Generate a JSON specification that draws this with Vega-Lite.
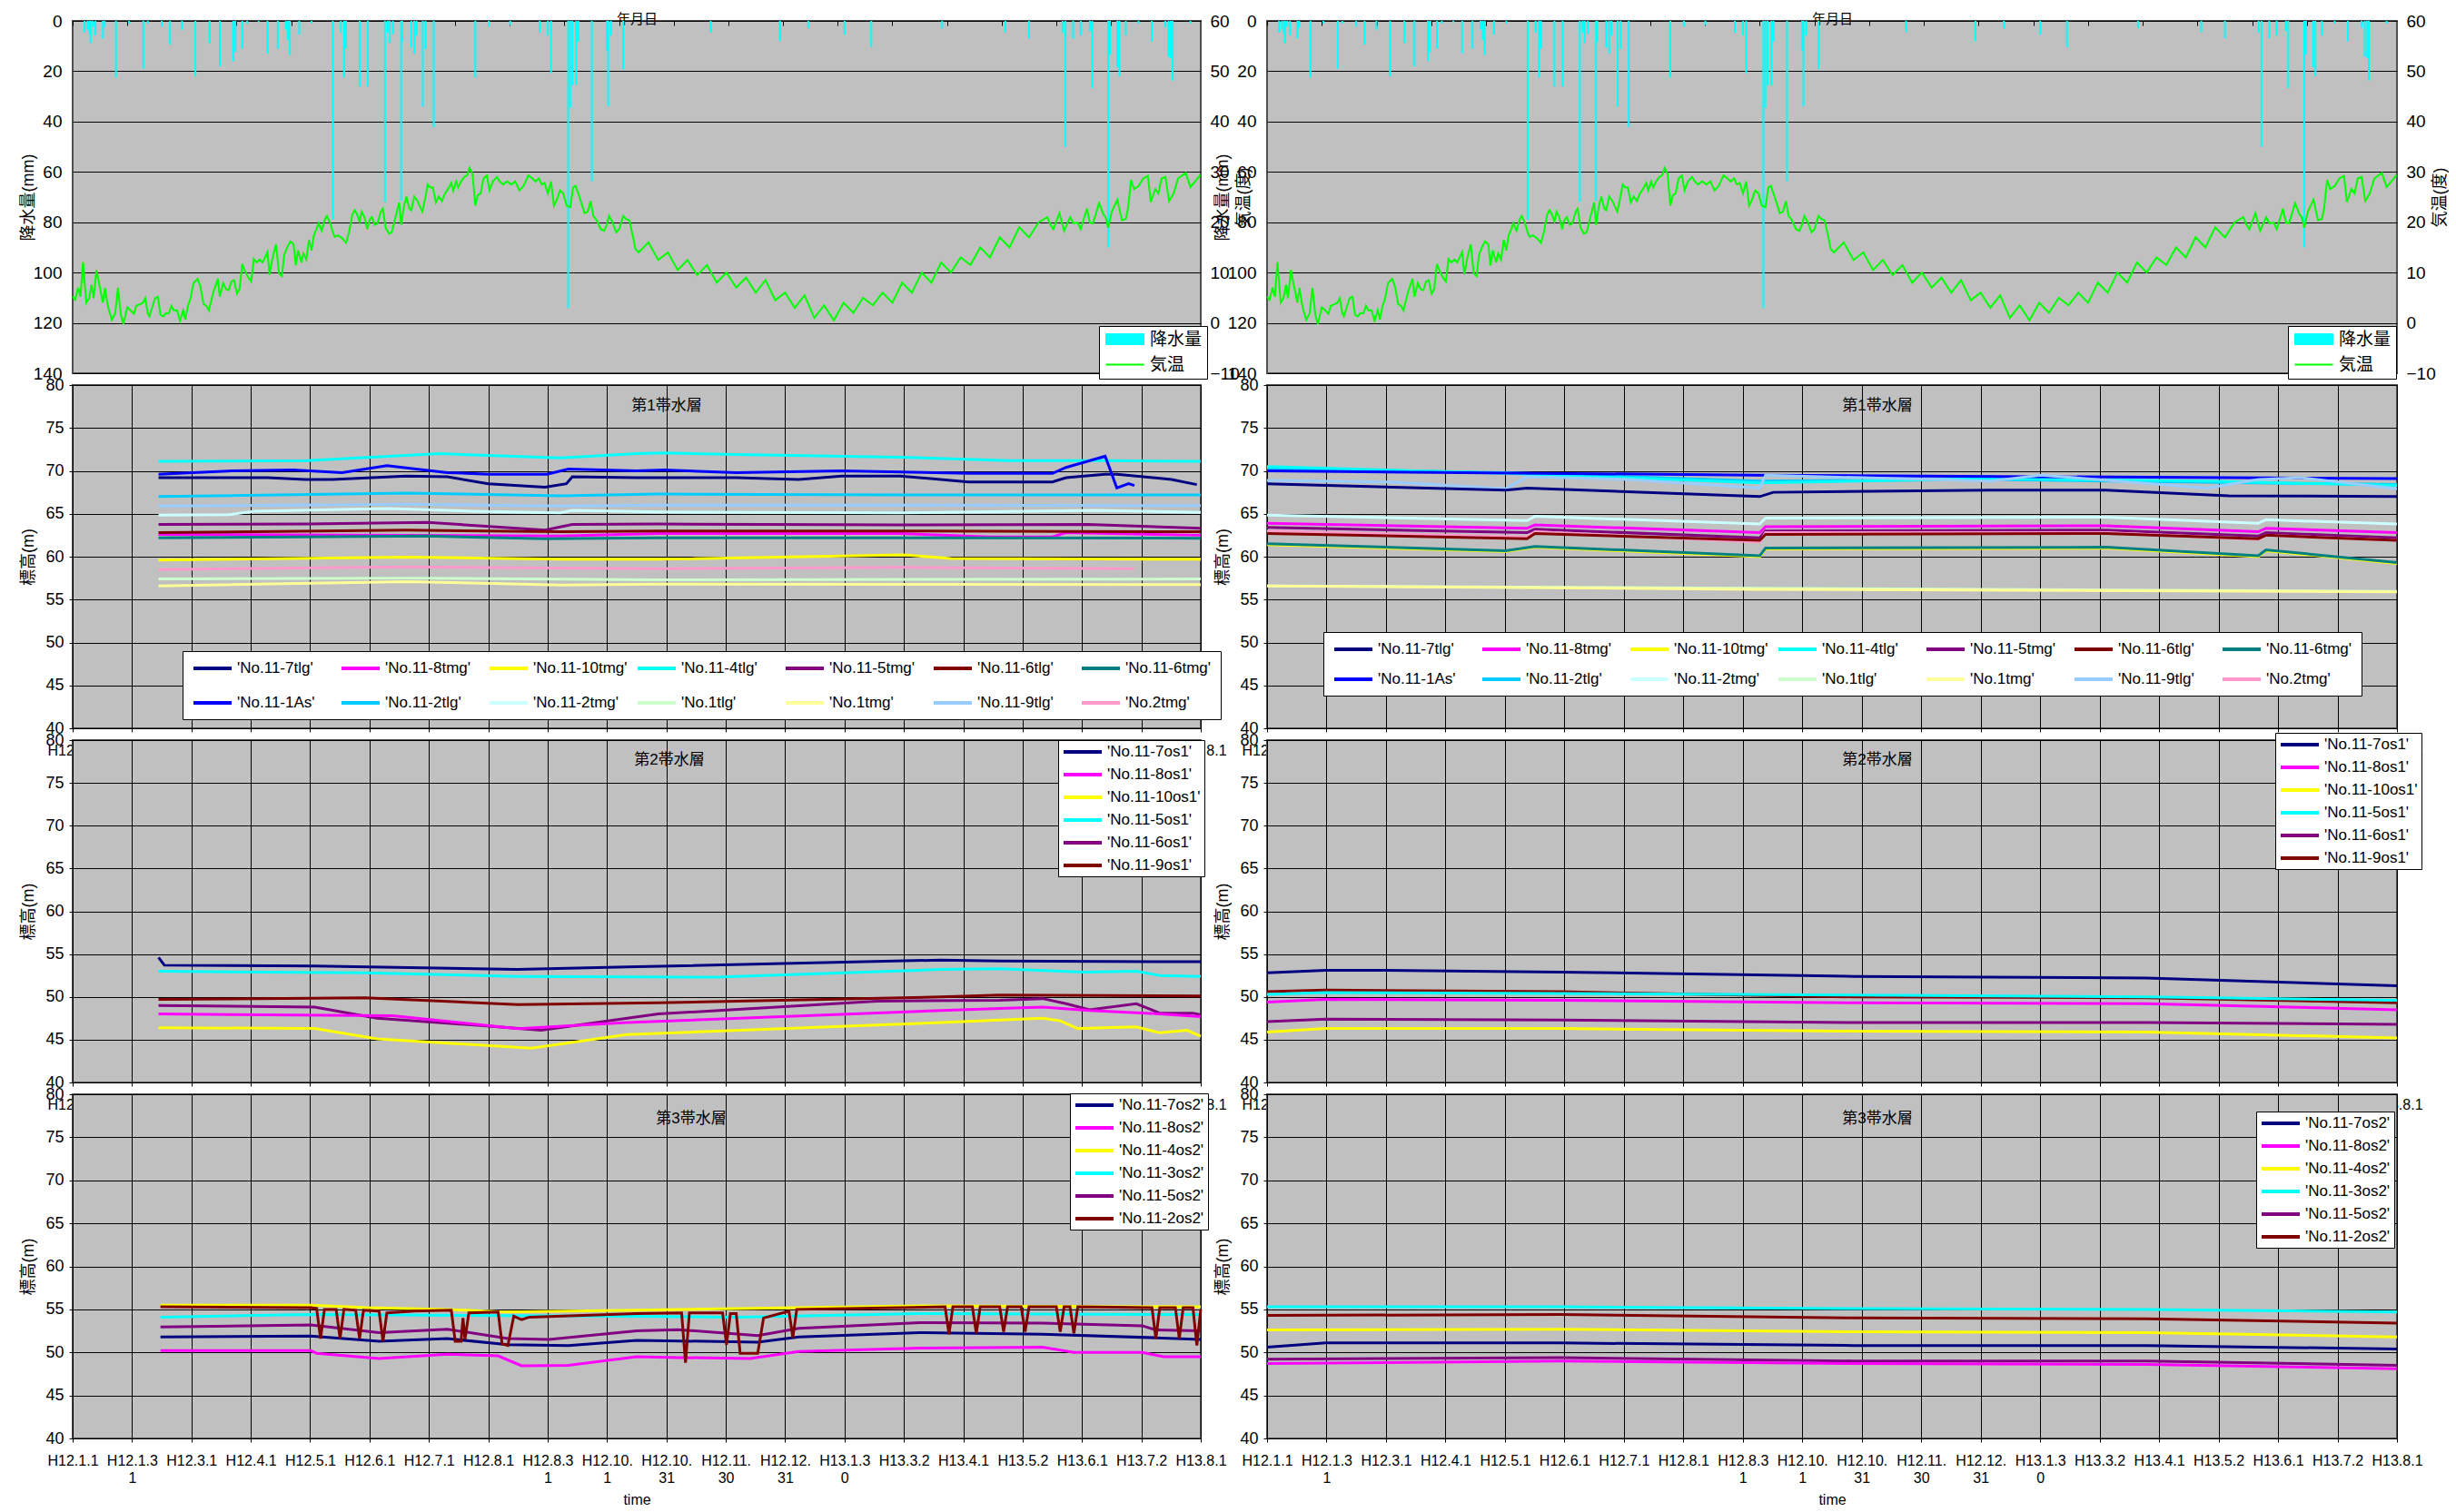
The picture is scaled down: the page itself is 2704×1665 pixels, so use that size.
{
"$schema":"https://vega.github.io/schema/vega-lite/v6.json",
"background":"white",
"padding":{"left":21,"top":12,"right":0,"bottom":0},
"bounds":"flush",
"columns":2,
"spacing":{"row":13,"column":73},
"resolve":{"scale":{"color":"independent","x":"independent","y":"independent"},"legend":{"color":"independent"}},
"config":{
 "font":"Liberation Sans, Noto Sans CJK JP",
 "view":{"fill":"#C0C0C0","stroke":"#505050","strokeWidth":2},
 "axis":{"labelFont":"Liberation Sans, Noto Sans CJK JP","titleFont":"Liberation Sans, Noto Sans CJK JP","labelColor":"black","titleColor":"black","titleFontWeight":"normal","domain":false,"gridColor":"black","gridOpacity":1,"gridWidth":1,"tickColor":"black","tickWidth":1},
 "legend":{"labelFont":"Liberation Sans, Noto Sans CJK JP","labelColor":"black","strokeColor":"black","fillColor":"white","symbolOpacity":1},
 "title":{"font":"Liberation Sans, Noto Sans CJK JP","fontWeight":"normal","color":"black"}
},
"datasets":{
"pr":[{"t":6.1,"p":4.7},{"t":7.6,"p":3.5},{"t":8.6,"p":5.2},{"t":9.2,"p":8.8},{"t":10.3,"p":2.3},{"t":11.7,"p":5.8},{"t":15.5,"p":7.0},{"t":16.4,"p":2.6},{"t":22.2,"p":22.5},{"t":28.8,"p":1.1},{"t":36.2,"p":19.0},{"t":38.5,"p":1.1},{"t":45.6,"p":2.3},{"t":49.9,"p":9.4},{"t":56.0,"p":3.5},{"t":62.9,"p":22.0},{"t":70.2,"p":8.8},{"t":75.4,"p":18.1},{"t":82.3,"p":16.0},{"t":83.4,"p":12.4},{"t":86.9,"p":11.0},{"t":89.4,"p":1.1},{"t":95.3,"p":0.5},{"t":99.8,"p":13.0},{"t":105.1,"p":11.0},{"t":109.2,"p":3.5},{"t":110.3,"p":7.6},{"t":111.3,"p":13.6},{"t":116.1,"p":5.5},{"t":122.4,"p":1.1},{"t":133.3,"p":79.0},{"t":137.4,"p":4.7},{"t":139.1,"p":22.5},{"t":140.1,"p":11.0},{"t":147.0,"p":26.1},{"t":151.2,"p":26.1},{"t":160.0,"p":72.0},{"t":161.4,"p":4.7},{"t":162.5,"p":8.8},{"t":164.1,"p":5.2},{"t":168.3,"p":71.5},{"t":168.9,"p":8.2},{"t":173.5,"p":10.6},{"t":175.0,"p":13.0},{"t":176.2,"p":5.8},{"t":179.4,"p":34.1},{"t":180.8,"p":11.2},{"t":185.0,"p":42.2},{"t":206.3,"p":22.5},{"t":213.2,"p":2.3},{"t":224.2,"p":1.7},{"t":239.3,"p":4.7},{"t":243.5,"p":5.8},{"t":245.1,"p":20.8},{"t":253.9,"p":114.1},{"t":254.9,"p":34.5},{"t":256.0,"p":25.5},{"t":258.0,"p":25.5},{"t":259.1,"p":8.2},{"t":266.0,"p":63.7},{"t":273.7,"p":11.8},{"t":274.4,"p":33.9},{"t":275.8,"p":5.8},{"t":282.1,"p":19.3},{"t":326.9,"p":4.5},{"t":362.4,"p":8.0},{"t":376.9,"p":3.0},{"t":395.5,"p":5.5},{"t":409.2,"p":10.5},{"t":445.5,"p":3.0},{"t":477.9,"p":4.5},{"t":490.0,"p":7.0},{"t":507.2,"p":4.7},{"t":508.7,"p":50.0},{"t":512.6,"p":7.0},{"t":516.5,"p":5.8},{"t":521.2,"p":4.0},{"t":522.4,"p":26.7},{"t":530.6,"p":90.0},{"t":531.5,"p":13.4},{"t":535.2,"p":18.4},{"t":536.3,"p":22.0},{"t":539.6,"p":5.8},{"t":546.1,"p":1.1},{"t":552.9,"p":8.2},{"t":559.9,"p":2.6},{"t":561.5,"p":14.2},{"t":562.6,"p":14.8},{"t":563.6,"p":23.7},{"t":572.7,"p":1.1}],
"tp":[{"t":0,"c":5.2},{"t":1.3,"c":4.6},{"t":2.8,"c":7.0},{"t":4.0,"c":5.2},{"t":5.3,"c":12.1},{"t":7.0,"c":4.0},{"t":8.4,"c":4.9},{"t":9.7,"c":7.6},{"t":10.7,"c":4.9},{"t":12.2,"c":10.5},{"t":13.8,"c":7.3},{"t":15.5,"c":4.0},{"t":16.6,"c":7.0},{"t":17.6,"c":4.3},{"t":18.6,"c":2.5},{"t":20.1,"c":0.6},{"t":21.8,"c":1.9},{"t":23.2,"c":7.0},{"t":24.7,"c":1.6},{"t":26.0,"c":-0.2},{"t":28.0,"c":3.1},{"t":29.7,"c":2.5},{"t":31.4,"c":1.8},{"t":32.6,"c":3.4},{"t":34.3,"c":3.7},{"t":36.0,"c":4.0},{"t":37.2,"c":4.9},{"t":38.5,"c":1.9},{"t":39.3,"c":1.3},{"t":41.0,"c":3.4},{"t":42.2,"c":4.9},{"t":43.7,"c":5.2},{"t":45.0,"c":1.6},{"t":46.4,"c":1.3},{"t":47.7,"c":1.9},{"t":49.3,"c":1.9},{"t":50.6,"c":3.4},{"t":51.8,"c":2.5},{"t":53.5,"c":2.5},{"t":55.0,"c":0.4},{"t":56.6,"c":2.5},{"t":57.7,"c":0.7},{"t":59.1,"c":3.4},{"t":60.4,"c":4.9},{"t":61.9,"c":7.9},{"t":64.0,"c":8.75},{"t":65.4,"c":7.3},{"t":67.1,"c":3.7},{"t":68.5,"c":3.4},{"t":69.8,"c":2.5},{"t":71.3,"c":4.9},{"t":72.3,"c":6.4},{"t":74.4,"c":8.75},{"t":75.4,"c":5.2},{"t":77.1,"c":7.9},{"t":78.6,"c":6.7},{"t":80.0,"c":6.5},{"t":81.3,"c":8.2},{"t":82.7,"c":8.5},{"t":84.2,"c":5.8},{"t":85.5,"c":6.7},{"t":86.9,"c":11.7},{"t":88.4,"c":10.2},{"t":90.0,"c":9.0},{"t":91.5,"c":8.2},{"t":92.8,"c":12.7},{"t":94.2,"c":12.0},{"t":95.9,"c":12.6},{"t":97.3,"c":12.0},{"t":98.4,"c":12.9},{"t":99.8,"c":14.1},{"t":100.9,"c":9.6},{"t":102.6,"c":13.2},{"t":104.2,"c":15.6},{"t":105.7,"c":9.9},{"t":107.2,"c":9.3},{"t":108.4,"c":13.5},{"t":109.9,"c":15.0},{"t":111.5,"c":16.2},{"t":113.2,"c":15.6},{"t":114.3,"c":11.4},{"t":115.5,"c":14.4},{"t":117.2,"c":12.0},{"t":118.2,"c":13.8},{"t":119.7,"c":12.6},{"t":121.1,"c":16.5},{"t":122.4,"c":14.4},{"t":123.6,"c":17.4},{"t":124.9,"c":18.6},{"t":126.0,"c":19.8},{"t":127.6,"c":18.3},{"t":129.3,"c":20.65},{"t":130.3,"c":21.25},{"t":132.0,"c":19.8},{"t":133.3,"c":18.0},{"t":134.3,"c":17.1},{"t":136.0,"c":17.4},{"t":138.1,"c":16.8},{"t":140.1,"c":15.9},{"t":141.6,"c":18.0},{"t":143.3,"c":21.5},{"t":144.5,"c":22.4},{"t":145.8,"c":21.5},{"t":147.0,"c":20.1},{"t":148.1,"c":22.1},{"t":149.5,"c":21.0},{"t":151.0,"c":18.6},{"t":152.0,"c":20.4},{"t":153.3,"c":21.0},{"t":154.8,"c":19.5},{"t":156.2,"c":19.8},{"t":157.9,"c":22.1},{"t":158.9,"c":22.7},{"t":160.4,"c":18.9},{"t":162.1,"c":17.7},{"t":163.5,"c":18.0},{"t":165.2,"c":20.65},{"t":167.3,"c":23.9},{"t":168.3,"c":19.5},{"t":169.8,"c":23.3},{"t":171.0,"c":25.1},{"t":172.5,"c":22.7},{"t":173.5,"c":22.4},{"t":175.0,"c":25.1},{"t":176.7,"c":24.2},{"t":177.7,"c":23.3},{"t":179.2,"c":22.1},{"t":180.8,"c":25.1},{"t":181.9,"c":27.5},{"t":183.3,"c":26.9},{"t":184.6,"c":26.9},{"t":186.1,"c":23.9},{"t":187.5,"c":25.1},{"t":189.2,"c":24.2},{"t":190.7,"c":25.7},{"t":192.3,"c":26.6},{"t":194.0,"c":27.8},{"t":195.0,"c":26.3},{"t":196.5,"c":28.1},{"t":197.5,"c":26.9},{"t":199.0,"c":28.1},{"t":200.7,"c":29.0},{"t":202.1,"c":29.3},{"t":203.4,"c":30.8},{"t":204.9,"c":29.6},{"t":206.3,"c":23.3},{"t":207.6,"c":25.4},{"t":209.0,"c":25.7},{"t":210.5,"c":28.7},{"t":212.2,"c":29.3},{"t":213.6,"c":26.3},{"t":215.3,"c":28.1},{"t":217.4,"c":29.0},{"t":218.8,"c":28.1},{"t":220.5,"c":27.5},{"t":222.6,"c":28.1},{"t":224.7,"c":27.5},{"t":226.8,"c":28.1},{"t":228.9,"c":26.3},{"t":231.0,"c":27.2},{"t":233.5,"c":29.3},{"t":235.5,"c":28.7},{"t":237.2,"c":28.1},{"t":238.9,"c":28.7},{"t":240.3,"c":27.5},{"t":241.8,"c":27.8},{"t":243.5,"c":25.7},{"t":245.1,"c":28.1},{"t":246.6,"c":23.3},{"t":248.1,"c":24.5},{"t":249.7,"c":26.3},{"t":251.4,"c":25.7},{"t":253.1,"c":23.3},{"t":255.0,"c":23.0},{"t":256.4,"c":26.9},{"t":257.7,"c":27.2},{"t":259.1,"c":25.7},{"t":260.6,"c":23.9},{"t":262.3,"c":21.8},{"t":263.9,"c":22.1},{"t":265.4,"c":24.2},{"t":266.8,"c":21.25},{"t":268.5,"c":20.4},{"t":270.6,"c":18.6},{"t":272.3,"c":18.3},{"t":273.7,"c":19.5},{"t":274.8,"c":21.25},{"t":276.5,"c":20.1},{"t":278.5,"c":18.0},{"t":280.0,"c":18.6},{"t":282.1,"c":21.25},{"t":283.5,"c":20.65},{"t":285.2,"c":20.4},{"t":287.3,"c":16.8},{"t":288.3,"c":14.7},{"t":290,"c":14},{"t":295,"c":16},{"t":300,"c":12.5},{"t":305,"c":14},{"t":310,"c":10.5},{"t":315,"c":12.5},{"t":320,"c":9.5},{"t":325,"c":11.5},{"t":330,"c":8},{"t":335,"c":10},{"t":340,"c":7},{"t":345,"c":9},{"t":350,"c":6},{"t":355,"c":8.5},{"t":360,"c":4.5},{"t":365,"c":6},{"t":370,"c":3},{"t":375,"c":5.5},{"t":380,"c":1},{"t":385,"c":3.5},{"t":390,"c":0.5},{"t":395,"c":4},{"t":400,"c":2},{"t":405,"c":5},{"t":410,"c":3.5},{"t":415,"c":6},{"t":420,"c":4},{"t":425,"c":8},{"t":430,"c":6},{"t":435,"c":10},{"t":440,"c":8},{"t":445,"c":12},{"t":450,"c":10},{"t":455,"c":13},{"t":460,"c":11.5},{"t":465,"c":15},{"t":470,"c":13},{"t":475,"c":17},{"t":480,"c":15},{"t":485,"c":19},{"t":490,"c":17},{"t":495,"c":20},{"t":499.4,"c":21.0},{"t":501.0,"c":19.5},{"t":502.5,"c":18.6},{"t":505.6,"c":21.8},{"t":508.0,"c":18.3},{"t":511.1,"c":21.0},{"t":512.7,"c":19.8},{"t":515.0,"c":19.9},{"t":516.5,"c":18.6},{"t":519.7,"c":22.7},{"t":521.2,"c":19.9},{"t":522.8,"c":19.8},{"t":525.9,"c":23.8},{"t":528.2,"c":21.5},{"t":529.3,"c":21.0},{"t":530.6,"c":18.9},{"t":532.4,"c":22.1},{"t":535.3,"c":24.5},{"t":537.6,"c":20.4},{"t":539.6,"c":20.65},{"t":540.7,"c":22.7},{"t":542.3,"c":28.4},{"t":543.8,"c":26.6},{"t":546.2,"c":27.2},{"t":548.5,"c":28.7},{"t":550.9,"c":29.2},{"t":552.4,"c":24.0},{"t":554.7,"c":26.6},{"t":556.3,"c":25.7},{"t":557.9,"c":28.7},{"t":559.9,"c":29.0},{"t":561.8,"c":24.2},{"t":564.1,"c":25.7},{"t":566.4,"c":28.7},{"t":570.3,"c":29.8},{"t":572.7,"c":27.0},{"t":575.8,"c":28.4},{"t":577.8,"c":29.4}],
"g2L":[
{"s":"'No.11-4tlg'","t":44,"v":71.1},{"s":"'No.11-4tlg'","t":120,"v":71.2},{"s":"'No.11-4tlg'","t":188,"v":72.0},{"s":"'No.11-4tlg'","t":250,"v":71.5},{"s":"'No.11-4tlg'","t":289,"v":72.0},{"s":"'No.11-4tlg'","t":303,"v":72.1},{"s":"'No.11-4tlg'","t":340,"v":71.9},{"s":"'No.11-4tlg'","t":424,"v":71.6},{"s":"'No.11-4tlg'","t":480,"v":71.2},{"s":"'No.11-4tlg'","t":530,"v":71.2},{"s":"'No.11-4tlg'","t":578,"v":71.1},
{"s":"'No.11-2tlg'","t":44,"v":67.0},{"s":"'No.11-2tlg'","t":171,"v":67.4},{"s":"'No.11-2tlg'","t":250,"v":67.1},{"s":"'No.11-2tlg'","t":300,"v":67.3},{"s":"'No.11-2tlg'","t":424,"v":67.2},{"s":"'No.11-2tlg'","t":578,"v":67.2},
{"s":"'No.11-9tlg'","t":44,"v":65.9},{"s":"'No.11-9tlg'","t":171,"v":66.1},{"s":"'No.11-9tlg'","t":250,"v":65.9},{"s":"'No.11-9tlg'","t":300,"v":66.0},{"s":"'No.11-9tlg'","t":424,"v":66.0},{"s":"'No.11-9tlg'","t":578,"v":65.95},
{"s":"'No.11-2tmg'","t":44,"v":64.85},{"s":"'No.11-2tmg'","t":80,"v":64.9},{"s":"'No.11-2tmg'","t":93,"v":65.3},{"s":"'No.11-2tmg'","t":161,"v":65.6},{"s":"'No.11-2tmg'","t":205,"v":65.3},{"s":"'No.11-2tmg'","t":250,"v":65.1},{"s":"'No.11-2tmg'","t":256,"v":65.4},{"s":"'No.11-2tmg'","t":300,"v":65.2},{"s":"'No.11-2tmg'","t":424,"v":65.1},{"s":"'No.11-2tmg'","t":524,"v":65.4},{"s":"'No.11-2tmg'","t":578,"v":65.15},
{"s":"'No.11-5tmg'","t":44,"v":63.75},{"s":"'No.11-5tmg'","t":120,"v":63.8},{"s":"'No.11-5tmg'","t":182,"v":64.0},{"s":"'No.11-5tmg'","t":242,"v":63.1},{"s":"'No.11-5tmg'","t":256,"v":63.75},{"s":"'No.11-5tmg'","t":300,"v":63.8},{"s":"'No.11-5tmg'","t":424,"v":63.7},{"s":"'No.11-5tmg'","t":520,"v":63.75},{"s":"'No.11-5tmg'","t":578,"v":63.3},
{"s":"'No.11-8tmg'","t":44,"v":62.6},{"s":"'No.11-8tmg'","t":250,"v":62.4},{"s":"'No.11-8tmg'","t":300,"v":62.7},{"s":"'No.11-8tmg'","t":424,"v":62.7},{"s":"'No.11-8tmg'","t":470,"v":62.3},{"s":"'No.11-8tmg'","t":502,"v":62.3},{"s":"'No.11-8tmg'","t":509,"v":62.8},{"s":"'No.11-8tmg'","t":578,"v":62.5},
{"s":"'No.11-6tlg'","t":44,"v":62.8},{"s":"'No.11-6tlg'","t":171,"v":63.1},{"s":"'No.11-6tlg'","t":250,"v":62.9},{"s":"'No.11-6tlg'","t":300,"v":63.0},{"s":"'No.11-6tlg'","t":424,"v":63.0},{"s":"'No.11-6tlg'","t":578,"v":62.9},
{"s":"'No.11-6tmg'","t":44,"v":62.2},{"s":"'No.11-6tmg'","t":182,"v":62.4},{"s":"'No.11-6tmg'","t":242,"v":62.1},{"s":"'No.11-6tmg'","t":300,"v":62.2},{"s":"'No.11-6tmg'","t":424,"v":62.2},{"s":"'No.11-6tmg'","t":578,"v":62.15},
{"s":"'No.11-10tmg'","t":44,"v":59.6},{"s":"'No.11-10tmg'","t":171,"v":59.95},{"s":"'No.11-10tmg'","t":250,"v":59.7},{"s":"'No.11-10tmg'","t":300,"v":59.7},{"s":"'No.11-10tmg'","t":426,"v":60.2},{"s":"'No.11-10tmg'","t":450,"v":59.8},{"s":"'No.11-10tmg'","t":578,"v":59.7},
{"s":"'No.2tmg'","t":44,"v":58.5},{"s":"'No.2tmg'","t":171,"v":58.8},{"s":"'No.2tmg'","t":300,"v":58.6},{"s":"'No.2tmg'","t":426,"v":58.75},{"s":"'No.2tmg'","t":544,"v":58.6},
{"s":"'No.1tlg'","t":44,"v":57.4},{"s":"'No.1tlg'","t":171,"v":57.5},{"s":"'No.1tlg'","t":300,"v":57.3},{"s":"'No.1tlg'","t":578,"v":57.4},
{"s":"'No.1tmg'","t":44,"v":56.6},{"s":"'No.1tmg'","t":171,"v":57.1},{"s":"'No.1tmg'","t":250,"v":56.7},{"s":"'No.1tmg'","t":300,"v":56.8},{"s":"'No.1tmg'","t":578,"v":56.75},
{"s":"'No.11-7tlg'","t":44,"v":69.2},{"s":"'No.11-7tlg'","t":100,"v":69.2},{"s":"'No.11-7tlg'","t":119,"v":69.0},{"s":"'No.11-7tlg'","t":133,"v":69.0},{"s":"'No.11-7tlg'","t":171,"v":69.4},{"s":"'No.11-7tlg'","t":192,"v":69.3},{"s":"'No.11-7tlg'","t":213,"v":68.5},{"s":"'No.11-7tlg'","t":242,"v":68.1},{"s":"'No.11-7tlg'","t":253,"v":68.5},{"s":"'No.11-7tlg'","t":256,"v":69.3},{"s":"'No.11-7tlg'","t":289,"v":69.2},{"s":"'No.11-7tlg'","t":340,"v":69.2},{"s":"'No.11-7tlg'","t":372,"v":69.0},{"s":"'No.11-7tlg'","t":394,"v":69.4},{"s":"'No.11-7tlg'","t":424,"v":69.4},{"s":"'No.11-7tlg'","t":459,"v":68.7},{"s":"'No.11-7tlg'","t":502,"v":68.7},{"s":"'No.11-7tlg'","t":509,"v":69.2},{"s":"'No.11-7tlg'","t":529,"v":69.6},{"s":"'No.11-7tlg'","t":535,"v":69.6},{"s":"'No.11-7tlg'","t":563,"v":69.0},{"s":"'No.11-7tlg'","t":576,"v":68.4},
{"s":"'No.11-1As'","t":44,"v":69.6},{"s":"'No.11-1As'","t":82,"v":70.0},{"s":"'No.11-1As'","t":113,"v":70.1},{"s":"'No.11-1As'","t":138,"v":69.8},{"s":"'No.11-1As'","t":161,"v":70.6},{"s":"'No.11-1As'","t":192,"v":69.8},{"s":"'No.11-1As'","t":213,"v":69.6},{"s":"'No.11-1As'","t":243,"v":69.6},{"s":"'No.11-1As'","t":254,"v":70.2},{"s":"'No.11-1As'","t":289,"v":70.0},{"s":"'No.11-1As'","t":303,"v":70.1},{"s":"'No.11-1As'","t":340,"v":69.8},{"s":"'No.11-1As'","t":394,"v":70.0},{"s":"'No.11-1As'","t":460,"v":69.7},{"s":"'No.11-1As'","t":502,"v":69.7},{"s":"'No.11-1As'","t":509,"v":70.4},{"s":"'No.11-1As'","t":529,"v":71.7},{"s":"'No.11-1As'","t":531,"v":70.5},{"s":"'No.11-1As'","t":535,"v":68.0},{"s":"'No.11-1As'","t":541,"v":68.5},{"s":"'No.11-1As'","t":544,"v":68.3}],
"g2R":[
{"s":"'No.11-2tlg'","t":0,"v":70.3},{"s":"'No.11-2tlg'","t":122,"v":69.8},{"s":"'No.11-2tlg'","t":252,"v":68.8},{"s":"'No.11-2tlg'","t":370,"v":69.0},{"s":"'No.11-2tlg'","t":578,"v":68.4},
{"s":"'No.11-4tlg'","t":0,"v":70.5},{"s":"'No.11-4tlg'","t":122,"v":69.7},{"s":"'No.11-4tlg'","t":252,"v":68.6},{"s":"'No.11-4tlg'","t":370,"v":69.1},{"s":"'No.11-4tlg'","t":480,"v":68.8},{"s":"'No.11-4tlg'","t":578,"v":68.3},
{"s":"'No.11-1As'","t":0,"v":70.0},{"s":"'No.11-1As'","t":250,"v":69.5},{"s":"'No.11-1As'","t":578,"v":69.1},
{"s":"'No.11-9tlg'","t":0,"v":68.9},{"s":"'No.11-9tlg'","t":63,"v":68.7},{"s":"'No.11-9tlg'","t":122,"v":67.9},{"s":"'No.11-9tlg'","t":133,"v":69.3},{"s":"'No.11-9tlg'","t":185,"v":69.0},{"s":"'No.11-9tlg'","t":252,"v":68.0},{"s":"'No.11-9tlg'","t":255,"v":69.5},{"s":"'No.11-9tlg'","t":370,"v":68.8},{"s":"'No.11-9tlg'","t":396,"v":69.5},{"s":"'No.11-9tlg'","t":481,"v":68.0},{"s":"'No.11-9tlg'","t":507,"v":69.0},{"s":"'No.11-9tlg'","t":529,"v":69.2},{"s":"'No.11-9tlg'","t":578,"v":67.9},
{"s":"'No.11-7tlg'","t":0,"v":68.5},{"s":"'No.11-7tlg'","t":122,"v":67.75},{"s":"'No.11-7tlg'","t":133,"v":68.0},{"s":"'No.11-7tlg'","t":252,"v":67.0},{"s":"'No.11-7tlg'","t":259,"v":67.5},{"s":"'No.11-7tlg'","t":370,"v":67.75},{"s":"'No.11-7tlg'","t":429,"v":67.75},{"s":"'No.11-7tlg'","t":492,"v":67.1},{"s":"'No.11-7tlg'","t":578,"v":67.0},
{"s":"'No.11-2tmg'","t":0,"v":64.85},{"s":"'No.11-2tmg'","t":133,"v":64.2},{"s":"'No.11-2tmg'","t":137,"v":64.7},{"s":"'No.11-2tmg'","t":252,"v":63.8},{"s":"'No.11-2tmg'","t":255,"v":64.5},{"s":"'No.11-2tmg'","t":429,"v":64.6},{"s":"'No.11-2tmg'","t":507,"v":63.9},{"s":"'No.11-2tmg'","t":511,"v":64.3},{"s":"'No.11-2tmg'","t":578,"v":63.8},
{"s":"'No.11-8tmg'","t":0,"v":63.9},{"s":"'No.11-8tmg'","t":133,"v":63.3},{"s":"'No.11-8tmg'","t":137,"v":63.7},{"s":"'No.11-8tmg'","t":252,"v":62.8},{"s":"'No.11-8tmg'","t":255,"v":63.5},{"s":"'No.11-8tmg'","t":429,"v":63.6},{"s":"'No.11-8tmg'","t":507,"v":62.9},{"s":"'No.11-8tmg'","t":511,"v":63.3},{"s":"'No.11-8tmg'","t":578,"v":62.8},
{"s":"'No.11-5tmg'","t":0,"v":63.4},{"s":"'No.11-5tmg'","t":133,"v":62.8},{"s":"'No.11-5tmg'","t":137,"v":63.2},{"s":"'No.11-5tmg'","t":252,"v":62.2},{"s":"'No.11-5tmg'","t":255,"v":63.0},{"s":"'No.11-5tmg'","t":429,"v":63.1},{"s":"'No.11-5tmg'","t":507,"v":62.4},{"s":"'No.11-5tmg'","t":511,"v":62.8},{"s":"'No.11-5tmg'","t":578,"v":62.2},
{"s":"'No.2tmg'","t":0,"v":63.0},{"s":"'No.2tmg'","t":133,"v":62.3},{"s":"'No.2tmg'","t":137,"v":62.9},{"s":"'No.2tmg'","t":252,"v":61.7},{"s":"'No.2tmg'","t":255,"v":62.8},{"s":"'No.2tmg'","t":429,"v":62.8},{"s":"'No.2tmg'","t":507,"v":62.0},{"s":"'No.2tmg'","t":511,"v":62.5},{"s":"'No.2tmg'","t":578,"v":61.9},
{"s":"'No.11-6tlg'","t":0,"v":62.7},{"s":"'No.11-6tlg'","t":133,"v":62.1},{"s":"'No.11-6tlg'","t":137,"v":62.7},{"s":"'No.11-6tlg'","t":252,"v":61.9},{"s":"'No.11-6tlg'","t":255,"v":62.6},{"s":"'No.11-6tlg'","t":429,"v":62.7},{"s":"'No.11-6tlg'","t":507,"v":62.1},{"s":"'No.11-6tlg'","t":511,"v":62.5},{"s":"'No.11-6tlg'","t":578,"v":61.9},
{"s":"'No.11-10tmg'","t":0,"v":61.4},{"s":"'No.11-10tmg'","t":122,"v":60.6},{"s":"'No.11-10tmg'","t":137,"v":61.1},{"s":"'No.11-10tmg'","t":252,"v":60.0},{"s":"'No.11-10tmg'","t":255,"v":60.9},{"s":"'No.11-10tmg'","t":429,"v":61.0},{"s":"'No.11-10tmg'","t":507,"v":60.0},{"s":"'No.11-10tmg'","t":511,"v":60.7},{"s":"'No.11-10tmg'","t":578,"v":59.2},
{"s":"'No.11-6tmg'","t":0,"v":61.5},{"s":"'No.11-6tmg'","t":122,"v":60.7},{"s":"'No.11-6tmg'","t":137,"v":61.2},{"s":"'No.11-6tmg'","t":252,"v":60.1},{"s":"'No.11-6tmg'","t":255,"v":61.0},{"s":"'No.11-6tmg'","t":429,"v":61.1},{"s":"'No.11-6tmg'","t":507,"v":60.1},{"s":"'No.11-6tmg'","t":511,"v":60.8},{"s":"'No.11-6tmg'","t":578,"v":59.3},
{"s":"'No.1tlg'","t":0,"v":56.6},{"s":"'No.1tlg'","t":578,"v":55.95},
{"s":"'No.1tmg'","t":0,"v":56.6},{"s":"'No.1tmg'","t":250,"v":56.2},{"s":"'No.1tmg'","t":578,"v":55.9}],
"g3L":[
{"s":"'No.11-7os1'","t":44,"v":54.6},{"s":"'No.11-7os1'","t":47,"v":53.7},{"s":"'No.11-7os1'","t":124,"v":53.6},{"s":"'No.11-7os1'","t":228,"v":53.2},{"s":"'No.11-7os1'","t":284,"v":53.5},{"s":"'No.11-7os1'","t":445,"v":54.3},{"s":"'No.11-7os1'","t":475,"v":54.2},{"s":"'No.11-7os1'","t":578,"v":54.1},
{"s":"'No.11-5os1'","t":44,"v":53.0},{"s":"'No.11-5os1'","t":150,"v":52.8},{"s":"'No.11-5os1'","t":228,"v":52.4},{"s":"'No.11-5os1'","t":330,"v":52.3},{"s":"'No.11-5os1'","t":445,"v":53.2},{"s":"'No.11-5os1'","t":475,"v":53.3},{"s":"'No.11-5os1'","t":518,"v":52.9},{"s":"'No.11-5os1'","t":545,"v":53.0},{"s":"'No.11-5os1'","t":557,"v":52.5},{"s":"'No.11-5os1'","t":578,"v":52.4},
{"s":"'No.11-9os1'","t":44,"v":49.7},{"s":"'No.11-9os1'","t":150,"v":49.9},{"s":"'No.11-9os1'","t":228,"v":49.1},{"s":"'No.11-9os1'","t":300,"v":49.3},{"s":"'No.11-9os1'","t":445,"v":50.0},{"s":"'No.11-9os1'","t":475,"v":50.2},{"s":"'No.11-9os1'","t":578,"v":50.1},
{"s":"'No.11-6os1'","t":44,"v":49.0},{"s":"'No.11-6os1'","t":124,"v":48.8},{"s":"'No.11-6os1'","t":156,"v":47.5},{"s":"'No.11-6os1'","t":212,"v":46.6},{"s":"'No.11-6os1'","t":240,"v":46.1},{"s":"'No.11-6os1'","t":300,"v":48.0},{"s":"'No.11-6os1'","t":412,"v":49.5},{"s":"'No.11-6os1'","t":475,"v":49.6},{"s":"'No.11-6os1'","t":497,"v":49.8},{"s":"'No.11-6os1'","t":509,"v":49.2},{"s":"'No.11-6os1'","t":521,"v":48.5},{"s":"'No.11-6os1'","t":545,"v":49.2},{"s":"'No.11-6os1'","t":557,"v":48.1},{"s":"'No.11-6os1'","t":574,"v":48.1},{"s":"'No.11-6os1'","t":578,"v":47.9},
{"s":"'No.11-8os1'","t":44,"v":48.0},{"s":"'No.11-8os1'","t":164,"v":47.8},{"s":"'No.11-8os1'","t":228,"v":46.3},{"s":"'No.11-8os1'","t":284,"v":47.0},{"s":"'No.11-8os1'","t":445,"v":48.4},{"s":"'No.11-8os1'","t":475,"v":48.65},{"s":"'No.11-8os1'","t":497,"v":48.8},{"s":"'No.11-8os1'","t":521,"v":48.4},{"s":"'No.11-8os1'","t":557,"v":48.0},{"s":"'No.11-8os1'","t":578,"v":47.7},
{"s":"'No.11-10os1'","t":44,"v":46.4},{"s":"'No.11-10os1'","t":124,"v":46.3},{"s":"'No.11-10os1'","t":156,"v":45.1},{"s":"'No.11-10os1'","t":235,"v":44.0},{"s":"'No.11-10os1'","t":284,"v":45.6},{"s":"'No.11-10os1'","t":445,"v":47.0},{"s":"'No.11-10os1'","t":475,"v":47.3},{"s":"'No.11-10os1'","t":497,"v":47.5},{"s":"'No.11-10os1'","t":506,"v":47.2},{"s":"'No.11-10os1'","t":515,"v":46.3},{"s":"'No.11-10os1'","t":545,"v":46.5},{"s":"'No.11-10os1'","t":557,"v":45.8},{"s":"'No.11-10os1'","t":571,"v":46.1},{"s":"'No.11-10os1'","t":578,"v":45.4}],
"g3R":[
{"s":"'No.11-7os1'","t":0,"v":52.8},{"s":"'No.11-7os1'","t":30,"v":53.1},{"s":"'No.11-7os1'","t":60,"v":53.1},{"s":"'No.11-7os1'","t":150,"v":52.9},{"s":"'No.11-7os1'","t":300,"v":52.4},{"s":"'No.11-7os1'","t":450,"v":52.2},{"s":"'No.11-7os1'","t":578,"v":51.3},
{"s":"'No.11-9os1'","t":0,"v":50.6},{"s":"'No.11-9os1'","t":30,"v":50.8},{"s":"'No.11-9os1'","t":150,"v":50.6},{"s":"'No.11-9os1'","t":300,"v":50.0},{"s":"'No.11-9os1'","t":450,"v":49.9},{"s":"'No.11-9os1'","t":578,"v":49.3},
{"s":"'No.11-5os1'","t":0,"v":50.3},{"s":"'No.11-5os1'","t":30,"v":50.5},{"s":"'No.11-5os1'","t":150,"v":50.4},{"s":"'No.11-5os1'","t":300,"v":50.2},{"s":"'No.11-5os1'","t":450,"v":50.0},{"s":"'No.11-5os1'","t":578,"v":49.6},
{"s":"'No.11-8os1'","t":0,"v":49.4},{"s":"'No.11-8os1'","t":30,"v":49.7},{"s":"'No.11-8os1'","t":150,"v":49.6},{"s":"'No.11-8os1'","t":300,"v":49.3},{"s":"'No.11-8os1'","t":450,"v":49.2},{"s":"'No.11-8os1'","t":578,"v":48.5},
{"s":"'No.11-6os1'","t":0,"v":47.1},{"s":"'No.11-6os1'","t":30,"v":47.4},{"s":"'No.11-6os1'","t":150,"v":47.3},{"s":"'No.11-6os1'","t":300,"v":47.0},{"s":"'No.11-6os1'","t":450,"v":47.0},{"s":"'No.11-6os1'","t":578,"v":46.8},
{"s":"'No.11-10os1'","t":0,"v":45.9},{"s":"'No.11-10os1'","t":30,"v":46.3},{"s":"'No.11-10os1'","t":150,"v":46.3},{"s":"'No.11-10os1'","t":300,"v":46.0},{"s":"'No.11-10os1'","t":450,"v":45.9},{"s":"'No.11-10os1'","t":578,"v":45.2}],
"g4L":[
{"s":"'No.11-3os2'","t":45,"v":54.1},{"s":"'No.11-3os2'","t":122,"v":54.4},{"s":"'No.11-3os2'","t":289,"v":54.2},{"s":"'No.11-3os2'","t":340,"v":54.1},{"s":"'No.11-3os2'","t":434,"v":54.5},{"s":"'No.11-3os2'","t":578,"v":54.4},
{"s":"'No.11-4os2'","t":45,"v":55.5},{"s":"'No.11-4os2'","t":122,"v":55.5},{"s":"'No.11-4os2'","t":151,"v":55.2},{"s":"'No.11-4os2'","t":192,"v":55.0},{"s":"'No.11-4os2'","t":221,"v":54.7},{"s":"'No.11-4os2'","t":289,"v":54.9},{"s":"'No.11-4os2'","t":372,"v":55.2},{"s":"'No.11-4os2'","t":434,"v":55.4},{"s":"'No.11-4os2'","t":578,"v":55.3},
{"s":"'No.11-5os2'","t":45,"v":52.95},{"s":"'No.11-5os2'","t":122,"v":53.2},{"s":"'No.11-5os2'","t":157,"v":52.3},{"s":"'No.11-5os2'","t":192,"v":52.7},{"s":"'No.11-5os2'","t":223,"v":51.6},{"s":"'No.11-5os2'","t":244,"v":51.5},{"s":"'No.11-5os2'","t":289,"v":52.5},{"s":"'No.11-5os2'","t":310,"v":52.65},{"s":"'No.11-5os2'","t":351,"v":51.95},{"s":"'No.11-5os2'","t":372,"v":52.8},{"s":"'No.11-5os2'","t":434,"v":53.45},{"s":"'No.11-5os2'","t":497,"v":53.4},{"s":"'No.11-5os2'","t":548,"v":53.1},{"s":"'No.11-5os2'","t":555,"v":52.6},{"s":"'No.11-5os2'","t":578,"v":52.5},
{"s":"'No.11-7os2'","t":45,"v":51.8},{"s":"'No.11-7os2'","t":122,"v":51.9},{"s":"'No.11-7os2'","t":157,"v":51.3},{"s":"'No.11-7os2'","t":192,"v":51.6},{"s":"'No.11-7os2'","t":223,"v":50.9},{"s":"'No.11-7os2'","t":254,"v":50.8},{"s":"'No.11-7os2'","t":289,"v":51.4},{"s":"'No.11-7os2'","t":351,"v":51.2},{"s":"'No.11-7os2'","t":372,"v":51.8},{"s":"'No.11-7os2'","t":434,"v":52.3},{"s":"'No.11-7os2'","t":497,"v":52.1},{"s":"'No.11-7os2'","t":555,"v":51.7},{"s":"'No.11-7os2'","t":578,"v":51.5},
{"s":"'No.11-8os2'","t":45,"v":50.2},{"s":"'No.11-8os2'","t":122,"v":50.2},{"s":"'No.11-8os2'","t":125,"v":49.9},{"s":"'No.11-8os2'","t":157,"v":49.3},{"s":"'No.11-8os2'","t":192,"v":49.8},{"s":"'No.11-8os2'","t":218,"v":49.6},{"s":"'No.11-8os2'","t":230,"v":48.45},{"s":"'No.11-8os2'","t":254,"v":48.5},{"s":"'No.11-8os2'","t":289,"v":49.5},{"s":"'No.11-8os2'","t":310,"v":49.4},{"s":"'No.11-8os2'","t":347,"v":49.3},{"s":"'No.11-8os2'","t":372,"v":50.1},{"s":"'No.11-8os2'","t":434,"v":50.5},{"s":"'No.11-8os2'","t":497,"v":50.6},{"s":"'No.11-8os2'","t":513,"v":50.0},{"s":"'No.11-8os2'","t":548,"v":50.0},{"s":"'No.11-8os2'","t":559,"v":49.5},{"s":"'No.11-8os2'","t":578,"v":49.5},
{"s":"'No.11-2os2'","t":45,"v":55.3},{"s":"'No.11-2os2'","t":122,"v":55.2},{"s":"'No.11-2os2'","t":125,"v":55.1},{"s":"'No.11-2os2'","t":127,"v":51.6},{"s":"'No.11-2os2'","t":129,"v":55.0},{"s":"'No.11-2os2'","t":135,"v":55.0},{"s":"'No.11-2os2'","t":137,"v":51.6},{"s":"'No.11-2os2'","t":139,"v":55.0},{"s":"'No.11-2os2'","t":145,"v":54.9},{"s":"'No.11-2os2'","t":147,"v":51.6},{"s":"'No.11-2os2'","t":149,"v":54.9},{"s":"'No.11-2os2'","t":157,"v":54.8},{"s":"'No.11-2os2'","t":159,"v":51.3},{"s":"'No.11-2os2'","t":161,"v":54.6},{"s":"'No.11-2os2'","t":175,"v":54.8},{"s":"'No.11-2os2'","t":194,"v":54.9},{"s":"'No.11-2os2'","t":196,"v":51.3},{"s":"'No.11-2os2'","t":199,"v":51.3},{"s":"'No.11-2os2'","t":200,"v":54.0},{"s":"'No.11-2os2'","t":201,"v":51.5},{"s":"'No.11-2os2'","t":203,"v":54.6},{"s":"'No.11-2os2'","t":218,"v":54.7},{"s":"'No.11-2os2'","t":220,"v":51.0},{"s":"'No.11-2os2'","t":223,"v":50.8},{"s":"'No.11-2os2'","t":226,"v":54.2},{"s":"'No.11-2os2'","t":230,"v":53.8},{"s":"'No.11-2os2'","t":234,"v":54.1},{"s":"'No.11-2os2'","t":289,"v":54.5},{"s":"'No.11-2os2'","t":312,"v":54.6},{"s":"'No.11-2os2'","t":314,"v":48.8},{"s":"'No.11-2os2'","t":316,"v":54.6},{"s":"'No.11-2os2'","t":333,"v":54.6},{"s":"'No.11-2os2'","t":335,"v":50.9},{"s":"'No.11-2os2'","t":337,"v":54.5},{"s":"'No.11-2os2'","t":340,"v":54.5},{"s":"'No.11-2os2'","t":342,"v":49.9},{"s":"'No.11-2os2'","t":351,"v":49.9},{"s":"'No.11-2os2'","t":354,"v":54.0},{"s":"'No.11-2os2'","t":367,"v":54.8},{"s":"'No.11-2os2'","t":369,"v":51.7},{"s":"'No.11-2os2'","t":371,"v":55.0},{"s":"'No.11-2os2'","t":447,"v":55.3},{"s":"'No.11-2os2'","t":449,"v":52.1},{"s":"'No.11-2os2'","t":451,"v":55.3},{"s":"'No.11-2os2'","t":461,"v":55.3},{"s":"'No.11-2os2'","t":463,"v":52.2},{"s":"'No.11-2os2'","t":465,"v":55.3},{"s":"'No.11-2os2'","t":475,"v":55.3},{"s":"'No.11-2os2'","t":477,"v":52.4},{"s":"'No.11-2os2'","t":479,"v":55.3},{"s":"'No.11-2os2'","t":486,"v":55.3},{"s":"'No.11-2os2'","t":488,"v":52.4},{"s":"'No.11-2os2'","t":490,"v":55.3},{"s":"'No.11-2os2'","t":504,"v":55.3},{"s":"'No.11-2os2'","t":506,"v":52.4},{"s":"'No.11-2os2'","t":508,"v":55.3},{"s":"'No.11-2os2'","t":511,"v":55.3},{"s":"'No.11-2os2'","t":513,"v":52.2},{"s":"'No.11-2os2'","t":515,"v":55.3},{"s":"'No.11-2os2'","t":553,"v":55.2},{"s":"'No.11-2os2'","t":555,"v":51.6},{"s":"'No.11-2os2'","t":557,"v":55.2},{"s":"'No.11-2os2'","t":565,"v":55.2},{"s":"'No.11-2os2'","t":567,"v":51.6},{"s":"'No.11-2os2'","t":569,"v":55.2},{"s":"'No.11-2os2'","t":574,"v":55.2},{"s":"'No.11-2os2'","t":576,"v":50.8},{"s":"'No.11-2os2'","t":578,"v":55.0}],
"g4R":[
{"s":"'No.11-3os2'","t":0,"v":55.3},{"s":"'No.11-3os2'","t":150,"v":55.3},{"s":"'No.11-3os2'","t":300,"v":55.1},{"s":"'No.11-3os2'","t":450,"v":55.0},{"s":"'No.11-3os2'","t":578,"v":54.7},
{"s":"'No.11-2os2'","t":0,"v":54.3},{"s":"'No.11-2os2'","t":150,"v":54.4},{"s":"'No.11-2os2'","t":300,"v":54.0},{"s":"'No.11-2os2'","t":450,"v":53.9},{"s":"'No.11-2os2'","t":578,"v":53.4},
{"s":"'No.11-4os2'","t":0,"v":52.6},{"s":"'No.11-4os2'","t":150,"v":52.7},{"s":"'No.11-4os2'","t":300,"v":52.4},{"s":"'No.11-4os2'","t":450,"v":52.3},{"s":"'No.11-4os2'","t":578,"v":51.8},
{"s":"'No.11-7os2'","t":0,"v":50.6},{"s":"'No.11-7os2'","t":30,"v":51.1},{"s":"'No.11-7os2'","t":150,"v":51.1},{"s":"'No.11-7os2'","t":300,"v":50.8},{"s":"'No.11-7os2'","t":450,"v":50.8},{"s":"'No.11-7os2'","t":578,"v":50.4},
{"s":"'No.11-5os2'","t":0,"v":49.2},{"s":"'No.11-5os2'","t":150,"v":49.4},{"s":"'No.11-5os2'","t":300,"v":49.0},{"s":"'No.11-5os2'","t":450,"v":49.0},{"s":"'No.11-5os2'","t":578,"v":48.5},
{"s":"'No.11-8os2'","t":0,"v":48.7},{"s":"'No.11-8os2'","t":150,"v":49.0},{"s":"'No.11-8os2'","t":300,"v":48.7},{"s":"'No.11-8os2'","t":450,"v":48.6},{"s":"'No.11-8os2'","t":578,"v":48.1}]
},
"concat":[
{"width":1242,"height":388,
 "layer":[
  {"data":{"name":"pr"},"mark":{"type":"rule","strokeWidth":2},
   "encoding":{
    "x":{"field":"t","type":"quantitative","scale":{"domain":[0,578],"nice":false,"zero":false},"axis":{"orient":"top","values":[0,7,14,21,28,35,42,49,56,63,70,77,84,91,98,105,112,119,126,133,140,147,154,161,168,175,182,189,196,203,210,217,224,231,238,245,252,259,266,273,280,287,294,301,308,315,322,329,336,343,350,357,364,371,378,385,392,399,406,413,420,427,434,441,448,455,462,469,476,483,490,497,504,511,518,525,532,539,546,553,560,567,574],"labels":false,"tickSize":-5,"grid":false,"title":"年月日","titleFontSize":15,"titleBaseline":"bottom","titleY":5}},
    "y":{"field":"p","type":"quantitative","scale":{"domain":[0,140],"reverse":true,"nice":false,"zero":false},"axis":{"orient":"left","values":[0,20,40,60,80,100,120,140],"grid":true,"tickSize":0,"labelPadding":12,"labelFontSize":19,"title":"降水量(mm)","titleFontSize":18,"titleX":-40,"titleAngle":270,"titleBaseline":"bottom"}},
    "y2":{"datum":0},
    "color":{"datum":"降水量","type":"nominal","scale":{"domain":["降水量","気温"],"range":["#00FFFF","#00FF00"]},
     "legend":{"orient":"none","legendX":1130,"legendY":336,"title":null,"padding":5,"rowPadding":8,"labelFontSize":19,"labelOffset":32,"symbolSize":196,"symbolType":"M-1,-0.85H5V0.85H-1Z","encode":{"symbols":{"update":{"shape":{"signal":"datum.value === '気温' ? 'M-1,0H5' : 'M-1,-0.85H5V0.85H-1Z'"},"fill":{"signal":"datum.value === '気温' ? 'transparent' : '#00FFFF'"},"stroke":{"signal":"datum.value === '気温' ? '#00FF00' : '#00FFFF'"},"strokeWidth":{"signal":"datum.value === '気温' ? 2 : 1"},"opacity":{"value":1}}}}}}
   }},
  {"data":{"name":"tp"},"mark":{"type":"line","strokeWidth":2},
   "encoding":{
    "x":{"field":"t","type":"quantitative"},
    "y":{"field":"c","type":"quantitative","scale":{"domain":[-10,60],"nice":false,"zero":false},"axis":{"orient":"right","values":[-10,0,10,20,30,40,50,60],"grid":false,"tickSize":0,"labelPadding":10,"labelFontSize":19,"title":"気温(度)","titleFontSize":18,"titleX":56,"titleAngle":270,"titleBaseline":"bottom"}},
    "color":{"datum":"気温","type":"nominal"}
   }}
 ],
 "resolve":{"scale":{"y":"independent"}}
},
{"width":1244,"height":388,
 "layer":[
  {"data":{"name":"pr"},"mark":{"type":"rule","strokeWidth":2},
   "encoding":{
    "x":{"field":"t","type":"quantitative","scale":{"domain":[0,578],"nice":false,"zero":false},"axis":{"orient":"top","values":[0,7,14,21,28,35,42,49,56,63,70,77,84,91,98,105,112,119,126,133,140,147,154,161,168,175,182,189,196,203,210,217,224,231,238,245,252,259,266,273,280,287,294,301,308,315,322,329,336,343,350,357,364,371,378,385,392,399,406,413,420,427,434,441,448,455,462,469,476,483,490,497,504,511,518,525,532,539,546,553,560,567,574],"labels":false,"tickSize":-5,"grid":false,"title":"年月日","titleFontSize":15,"titleBaseline":"bottom","titleY":5}},
    "y":{"field":"p","type":"quantitative","scale":{"domain":[0,140],"reverse":true,"nice":false,"zero":false},"axis":{"orient":"left","values":[0,20,40,60,80,100,120,140],"grid":true,"tickSize":0,"labelPadding":12,"labelFontSize":19,"title":"降水量(mm)","titleFontSize":18,"titleX":-40,"titleAngle":270,"titleBaseline":"bottom"}},
    "y2":{"datum":0},
    "color":{"datum":"降水量","type":"nominal","scale":{"domain":["降水量","気温"],"range":["#00FFFF","#00FF00"]},
     "legend":{"orient":"none","legendX":1124,"legendY":336,"title":null,"padding":5,"rowPadding":8,"labelFontSize":19,"labelOffset":32,"symbolSize":196,"symbolType":"M-1,-0.85H5V0.85H-1Z","encode":{"symbols":{"update":{"shape":{"signal":"datum.value === '気温' ? 'M-1,0H5' : 'M-1,-0.85H5V0.85H-1Z'"},"fill":{"signal":"datum.value === '気温' ? 'transparent' : '#00FFFF'"},"stroke":{"signal":"datum.value === '気温' ? '#00FF00' : '#00FFFF'"},"strokeWidth":{"signal":"datum.value === '気温' ? 2 : 1"},"opacity":{"value":1}}}}}}
   }},
  {"data":{"name":"tp"},"mark":{"type":"line","strokeWidth":2},
   "encoding":{
    "x":{"field":"t","type":"quantitative"},
    "y":{"field":"c","type":"quantitative","scale":{"domain":[-10,60],"nice":false,"zero":false},"axis":{"orient":"right","values":[-10,0,10,20,30,40,50,60],"grid":false,"tickSize":0,"labelPadding":10,"labelFontSize":19,"title":"気温(度)","titleFontSize":18,"titleX":56,"titleAngle":270,"titleBaseline":"bottom"}},
    "color":{"datum":"気温","type":"nominal"}
   }}
 ],
 "resolve":{"scale":{"y":"independent"}}
},
{"width":1242,"height":378,"data":{"name":"g2L"},
 "title":{"text":"第1帯水層","frame":"group","anchor":"middle","dx":33,"offset":-49,"fontSize":17,"baseline":"middle"},
 "mark":{"type":"line","strokeWidth":3},
 "encoding":{
  "x":{"field":"t","type":"quantitative","scale":{"domain":[0,578],"nice":false,"zero":false},"axis":{"values":[0,30.421,60.842,91.263,121.684,152.105,182.526,212.947,243.368,273.789,304.211,334.632,365.053,395.474,425.895,456.316,486.737,517.158,547.579,578],"grid":true,"tickSize":4,"labelPadding":12,"labelFontSize":16,"labelLineHeight":19,"labelOverlap":false,"labelFlush":false,"labelBound":false,"labelExpr":"split(['H12.1.1','H12.1.3|1','H12.3.1','H12.4.1','H12.5.1','H12.6.1','H12.7.1','H12.8.1','H12.8.3|1','H12.10.|1','H12.10.|31','H12.11.|30','H12.12.|31','H13.1.3|0','H13.3.2','H13.4.1','H13.5.2','H13.6.1','H13.7.2','H13.8.1'][round(datum.value/30.421)], '|')","title":null}},
  "y":{"field":"v","type":"quantitative","scale":{"domain":[40,80],"nice":false,"zero":false},"axis":{"values":[40,45,50,55,60,65,70,75,80],"grid":true,"tickSize":4,"labelPadding":6,"labelFontSize":18,"title":"標高(m)","titleFontSize":18,"titleX":-40,"titleAngle":270,"titleBaseline":"bottom"}},
  "color":{"field":"s","type":"nominal","scale":{"domain":["'No.11-7tlg'","'No.11-8tmg'","'No.11-10tmg'","'No.11-4tlg'","'No.11-5tmg'","'No.11-6tlg'","'No.11-6tmg'","'No.11-1As'","'No.11-2tlg'","'No.11-2tmg'","'No.1tlg'","'No.1tmg'","'No.11-9tlg'","'No.2tmg'"],"range":["#000080","#FF00FF","#FFFF00","#00FFFF","#800080","#800000","#008080","#0000FF","#00CCFF","#CCFFFF","#CCFFCC","#FFFF99","#99CCFF","#FF99CC"]},
   "legend":{"orient":"none","legendX":121,"legendY":293,"direction":"horizontal","columns":7,"gridAlign":"all","title":null,"symbolType":"M-1,0H5","symbolSize":196,"symbolStrokeWidth":4,"labelOffset":32,"labelFontSize":17,"columnPadding":3,"rowPadding":21,"padding":10,"labelLimit":300}}
 }
},
{"width":1244,"height":378,"data":{"name":"g2R"},
 "title":{"text":"第1帯水層","frame":"group","anchor":"middle","dx":50,"offset":-49,"fontSize":17,"baseline":"middle"},
 "mark":{"type":"line","strokeWidth":3},
 "encoding":{
  "x":{"field":"t","type":"quantitative","scale":{"domain":[0,578],"nice":false,"zero":false},"axis":{"values":[0,30.421,60.842,91.263,121.684,152.105,182.526,212.947,243.368,273.789,304.211,334.632,365.053,395.474,425.895,456.316,486.737,517.158,547.579,578],"grid":true,"tickSize":4,"labelPadding":12,"labelFontSize":16,"labelLineHeight":19,"labelOverlap":false,"labelFlush":false,"labelBound":false,"labelExpr":"split(['H12.1.1','H12.1.3|1','H12.3.1','H12.4.1','H12.5.1','H12.6.1','H12.7.1','H12.8.1','H12.8.3|1','H12.10.|1','H12.10.|31','H12.11.|30','H12.12.|31','H13.1.3|0','H13.3.2','H13.4.1','H13.5.2','H13.6.1','H13.7.2','H13.8.1'][round(datum.value/30.421)], '|')","title":null}},
  "y":{"field":"v","type":"quantitative","scale":{"domain":[40,80],"nice":false,"zero":false},"axis":{"values":[40,45,50,55,60,65,70,75,80],"grid":true,"tickSize":4,"labelPadding":6,"labelFontSize":18,"title":"標高(m)","titleFontSize":18,"titleX":-40,"titleAngle":270,"titleBaseline":"bottom"}},
  "color":{"field":"s","type":"nominal","scale":{"domain":["'No.11-7tlg'","'No.11-8tmg'","'No.11-10tmg'","'No.11-4tlg'","'No.11-5tmg'","'No.11-6tlg'","'No.11-6tmg'","'No.11-1As'","'No.11-2tlg'","'No.11-2tmg'","'No.1tlg'","'No.1tmg'","'No.11-9tlg'","'No.2tmg'"],"range":["#000080","#FF00FF","#FFFF00","#00FFFF","#800080","#800000","#008080","#0000FF","#00CCFF","#CCFFFF","#CCFFCC","#FFFF99","#99CCFF","#FF99CC"]},
   "legend":{"orient":"none","legendX":62,"legendY":272,"direction":"horizontal","columns":7,"gridAlign":"all","title":null,"symbolType":"M-1,0H5","symbolSize":196,"symbolStrokeWidth":4,"labelOffset":32,"labelFontSize":17,"columnPadding":3,"rowPadding":16,"padding":10,"labelLimit":300}}
 }
},
{"width":1242,"height":377,"data":{"name":"g3L"},
 "title":{"text":"第2帯水層","frame":"group","anchor":"middle","dx":36,"offset":-48,"fontSize":17,"baseline":"middle"},
 "mark":{"type":"line","strokeWidth":3},
 "encoding":{
  "x":{"field":"t","type":"quantitative","scale":{"domain":[0,578],"nice":false,"zero":false},"axis":{"values":[0,30.421,60.842,91.263,121.684,152.105,182.526,212.947,243.368,273.789,304.211,334.632,365.053,395.474,425.895,456.316,486.737,517.158,547.579,578],"grid":true,"tickSize":4,"labelPadding":12,"labelFontSize":16,"labelLineHeight":19,"labelOverlap":false,"labelFlush":false,"labelBound":false,"labelExpr":"split(['H12.1.1','H12.1.3|1','H12.3.1','H12.4.1','H12.5.1','H12.6.1','H12.7.1','H12.8.1','H12.8.3|1','H12.10.|1','H12.10.|31','H12.11.|30','H12.12.|31','H13.1.3|0','H13.3.2','H13.4.1','H13.5.2','H13.6.1','H13.7.2','H13.8.1'][round(datum.value/30.421)], '|')","title":null}},
  "y":{"field":"v","type":"quantitative","scale":{"domain":[40,80],"nice":false,"zero":false},"axis":{"values":[40,45,50,55,60,65,70,75,80],"grid":true,"tickSize":4,"labelPadding":6,"labelFontSize":18,"title":"標高(m)","titleFontSize":18,"titleX":-40,"titleAngle":270,"titleBaseline":"bottom"}},
  "color":{"field":"s","type":"nominal","scale":{"domain":["'No.11-7os1'","'No.11-8os1'","'No.11-10os1'","'No.11-5os1'","'No.11-6os1'","'No.11-9os1'"],"range":["#000080","#FF00FF","#FFFF00","#00FFFF","#800080","#800000"]},
   "legend":{"orient":"none","legendX":1085,"legendY":0,"direction":"vertical","title":null,"symbolType":"M-1,0H5","symbolSize":196,"symbolStrokeWidth":4,"labelOffset":32,"labelFontSize":17,"rowPadding":8,"padding":4,"labelLimit":300}}
 }
},
{"width":1244,"height":377,"data":{"name":"g3R"},
 "title":{"text":"第2帯水層","frame":"group","anchor":"middle","dx":50,"offset":-48,"fontSize":17,"baseline":"middle"},
 "mark":{"type":"line","strokeWidth":3},
 "encoding":{
  "x":{"field":"t","type":"quantitative","scale":{"domain":[0,578],"nice":false,"zero":false},"axis":{"values":[0,30.421,60.842,91.263,121.684,152.105,182.526,212.947,243.368,273.789,304.211,334.632,365.053,395.474,425.895,456.316,486.737,517.158,547.579,578],"grid":true,"tickSize":4,"labelPadding":12,"labelFontSize":16,"labelLineHeight":19,"labelOverlap":false,"labelFlush":false,"labelBound":false,"labelExpr":"split(['H12.1.1','H12.1.3|1','H12.3.1','H12.4.1','H12.5.1','H12.6.1','H12.7.1','H12.8.1','H12.8.3|1','H12.10.|1','H12.10.|31','H12.11.|30','H12.12.|31','H13.1.3|0','H13.3.2','H13.4.1','H13.5.2','H13.6.1','H13.7.2','H13.8.1'][round(datum.value/30.421)], '|')","title":null}},
  "y":{"field":"v","type":"quantitative","scale":{"domain":[40,80],"nice":false,"zero":false},"axis":{"values":[40,45,50,55,60,65,70,75,80],"grid":true,"tickSize":4,"labelPadding":6,"labelFontSize":18,"title":"標高(m)","titleFontSize":18,"titleX":-40,"titleAngle":270,"titleBaseline":"bottom"}},
  "color":{"field":"s","type":"nominal","scale":{"domain":["'No.11-7os1'","'No.11-8os1'","'No.11-10os1'","'No.11-5os1'","'No.11-6os1'","'No.11-9os1'"],"range":["#000080","#FF00FF","#FFFF00","#00FFFF","#800080","#800000"]},
   "legend":{"orient":"none","legendX":1110,"legendY":-8,"direction":"vertical","title":null,"symbolType":"M-1,0H5","symbolSize":196,"symbolStrokeWidth":4,"labelOffset":32,"labelFontSize":17,"rowPadding":8,"padding":4,"labelLimit":300}}
 }
},
{"width":1242,"height":379,"data":{"name":"g4L"},
 "title":{"text":"第3帯水層","frame":"group","anchor":"middle","dx":60,"offset":-53,"fontSize":17,"baseline":"middle"},
 "mark":{"type":"line","strokeWidth":3},
 "encoding":{
  "x":{"field":"t","type":"quantitative","scale":{"domain":[0,578],"nice":false,"zero":false},"axis":{"values":[0,30.421,60.842,91.263,121.684,152.105,182.526,212.947,243.368,273.789,304.211,334.632,365.053,395.474,425.895,456.316,486.737,517.158,547.579,578],"grid":true,"tickSize":4,"labelPadding":12,"labelFontSize":16,"labelLineHeight":19,"labelOverlap":false,"labelFlush":false,"labelBound":false,"labelExpr":"split(['H12.1.1','H12.1.3|1','H12.3.1','H12.4.1','H12.5.1','H12.6.1','H12.7.1','H12.8.1','H12.8.3|1','H12.10.|1','H12.10.|31','H12.11.|30','H12.12.|31','H13.1.3|0','H13.3.2','H13.4.1','H13.5.2','H13.6.1','H13.7.2','H13.8.1'][round(datum.value/30.421)], '|')","title":"time","titleFontSize":16,"titlePadding":8}},
  "y":{"field":"v","type":"quantitative","scale":{"domain":[40,80],"nice":false,"zero":false},"axis":{"values":[40,45,50,55,60,65,70,75,80],"grid":true,"tickSize":4,"labelPadding":6,"labelFontSize":18,"title":"標高(m)","titleFontSize":18,"titleX":-40,"titleAngle":270,"titleBaseline":"bottom"}},
  "color":{"field":"s","type":"nominal","scale":{"domain":["'No.11-7os2'","'No.11-8os2'","'No.11-4os2'","'No.11-3os2'","'No.11-5os2'","'No.11-2os2'"],"range":["#000080","#FF00FF","#FFFF00","#00FFFF","#800080","#800000"]},
   "legend":{"orient":"none","legendX":1098,"legendY":-1,"direction":"vertical","title":null,"symbolType":"M-1,0H5","symbolSize":196,"symbolStrokeWidth":4,"labelOffset":32,"labelFontSize":17,"rowPadding":8,"padding":4,"labelLimit":300}}
 }
},
{"width":1244,"height":379,"data":{"name":"g4R"},
 "title":{"text":"第3帯水層","frame":"group","anchor":"middle","dx":50,"offset":-53,"fontSize":17,"baseline":"middle"},
 "mark":{"type":"line","strokeWidth":3},
 "encoding":{
  "x":{"field":"t","type":"quantitative","scale":{"domain":[0,578],"nice":false,"zero":false},"axis":{"values":[0,30.421,60.842,91.263,121.684,152.105,182.526,212.947,243.368,273.789,304.211,334.632,365.053,395.474,425.895,456.316,486.737,517.158,547.579,578],"grid":true,"tickSize":4,"labelPadding":12,"labelFontSize":16,"labelLineHeight":19,"labelOverlap":false,"labelFlush":false,"labelBound":false,"labelExpr":"split(['H12.1.1','H12.1.3|1','H12.3.1','H12.4.1','H12.5.1','H12.6.1','H12.7.1','H12.8.1','H12.8.3|1','H12.10.|1','H12.10.|31','H12.11.|30','H12.12.|31','H13.1.3|0','H13.3.2','H13.4.1','H13.5.2','H13.6.1','H13.7.2','H13.8.1'][round(datum.value/30.421)], '|')","title":"time","titleFontSize":16,"titlePadding":8}},
  "y":{"field":"v","type":"quantitative","scale":{"domain":[40,80],"nice":false,"zero":false},"axis":{"values":[40,45,50,55,60,65,70,75,80],"grid":true,"tickSize":4,"labelPadding":6,"labelFontSize":18,"title":"標高(m)","titleFontSize":18,"titleX":-40,"titleAngle":270,"titleBaseline":"bottom"}},
  "color":{"field":"s","type":"nominal","scale":{"domain":["'No.11-7os2'","'No.11-8os2'","'No.11-4os2'","'No.11-3os2'","'No.11-5os2'","'No.11-2os2'"],"range":["#000080","#FF00FF","#FFFF00","#00FFFF","#800080","#800000"]},
   "legend":{"orient":"none","legendX":1089,"legendY":19,"direction":"vertical","title":null,"symbolType":"M-1,0H5","symbolSize":196,"symbolStrokeWidth":4,"labelOffset":32,"labelFontSize":17,"rowPadding":8,"padding":4,"labelLimit":300}}
 }
}
]
}
